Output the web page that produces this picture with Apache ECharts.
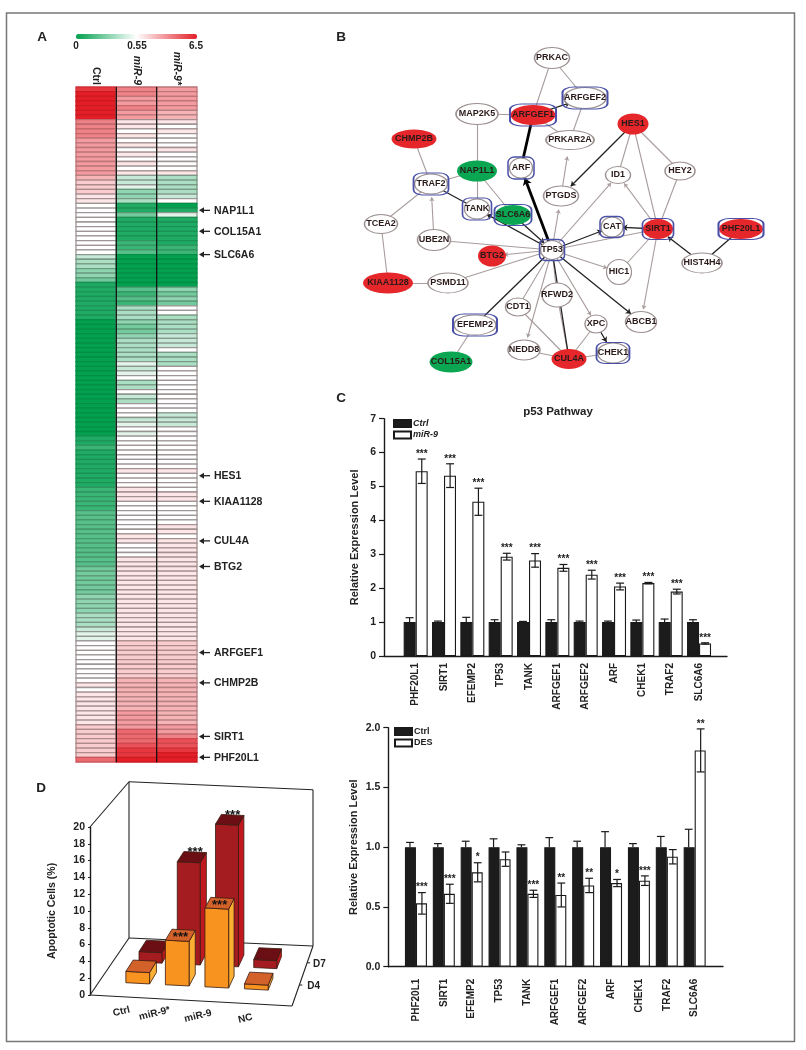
<!DOCTYPE html>
<html><head><meta charset="utf-8">
<style>html,body{margin:0;padding:0;background:#fff}#c{width:806px;height:1050px}</style>
<script src="https://cdn.jsdelivr.net/npm/echarts@6/dist/echarts.min.js"></script>
</head><body><div id="c"></div>
<script>
// ---------- Panel A: heat map (levels -9 green .. 0 white .. +9 red)
const heatColumns = ['Ctrl','miR-9','miR-9*'];
const heatCtrl = [8,9,9,9,9,9,9, 5,5,5,5,4,4,4,4,4,4,4,4, 3,2,2,2,1,1, 0,0,0,0,0,0,0,0,0,0,0, -2,-3,-3,-4,-4,-5,
 -8,-8,-8,-8,-8,-8,-8,-8, -9,-9,-9,-9,-9,-9,-9,-9,-9,-9,-9,-9,-9,-9,-9,-9,-9,-9,-9,-9,-9,-9,-9,-9,-9,
 -8,-8,-7,-8,-8,-8,-8,-8,-8,-8,-8, -7,-7,-7,-7,-7,-6,-6,-6,-6,-6,-6,-6,-6,-6,-6, -6,-6,-5,-5,-5,-5,-5,-5,
 -4,-4,-4,-4,-3,-3,-3, -2,-1,-1,0, 0,0,0,0,0,0,0,0, 1,0,1,1,1,1,1,1,1, 2,2,2,2,2,2,2, 6];
const heatMir9 = [5,5,4,4,5,4,4, 1,1,0,1,0,1,0,1,0,1,0,1, -2,-2,-1,-4,-4,-3, -8,-8,-5, -8,-8,-8,-8,-8,-7,-7,-6,
 -9,-9,-9,-9,-9,-9,-9, -6,-7,-6,-7, -3,-3,-3,-4, -5,-5,-4, -3,-3,-3,-3,-3, -1,-2,-1,0, -3,-3,0,-2,-3,
 0,0,0,-2,-1,0,-1, 0,0,0,0,0,0,0, 1, 0,0,0, 1,1,1, 0,0,0,0,0,0,0, 1,1,
 0,0,0,1,1,1,1,1,1,1,1,1,1,1,1,1,1,1,1,1,1, 2,2,2,2,2,2,2,2, 3,3,3,3,3,3,3,4,4,4,4, 6,6,6, 7,8,8,9];
const heatMir9s = [4,4,4,4,4,3,3, 1,0,1,0,0,0,1,0,0,0,0,1, -3,-3,-3,-3,-2,0, -9,-8,-1, -8,-8,-8,-8,-8,-8,-7,-7,
 -9,-9,-9,-9,-9,-9,-9, -4,-5,-4,-5, 0,0,-3, -3,-3,-3,-2,-2,-2, 0, -3,-3,-3, 0,0,0,0,0,0,0,0,0,0, -2,-2,-2,
 0,0,0,0,0,0,0,0,0, 1, 0,0,0,0, 1,1, 0,0,0,0,0, 1,1,0,1,1,1,1,
 1,1,1,1,1,1,1,1,1,1,1,1,1,1,1,1,1,1, 2,2,2,2,2,2,2,2, 3,3,3,3,3,3,3,3,3,3,4, 4,5, 7,7,8,9,9];
const geneNames = ['NAP1L1','COL15A1','SLC6A6','HES1','KIAA1128','CUL4A','BTG2','ARFGEF1','CHMP2B','SIRT1','PHF20L1'];
const geneRows  = [26,30.5,35.5,83,88.5,97,102.5,121,127.5,139,143.5];
const scaleLabels = ['0','0.55','6.5'];

// ---------- Panel B: network
const nodeNames = ['PRKAC','ARFGEF2','MAP2K5','ARFGEF1','PRKAR2A','HES1','CHMP2B','NAP1L1','ARF','ID1','HEY2','PTGDS','TRAF2','TANK','SLC6A6','TCEA2','UBE2N','TP53','CAT','SIRT1','PHF20L1','BTG2','HIC1','HIST4H4','KIAA1128','PSMD11','CDT1','RFWD2','XPC','ABCB1','EFEMP2','NEDD8','CUL4A','CHEK1','COL15A1'];
const nodeX = [552,585,477,533,570,633,414,477,521,618,680,561,431,477,513,381,434,552,612,658,741,492,619,702,388,448,518,557,596,641,475,524,569,613,451];
const nodeY = [58,98,114,115,140,124,139,171,168,175,171,196,184,209,215,224,240,250,227,229,229,256,272,263,283,283,307,295,324,322,325,350,359,353,362];
const nodeW = [35,42,42,45,48,31,45,40,23,25,30,35,33,25,36,33,33,23,22,30,44,28,25,40,50,40,25,30,22,31,42,32,35,31,43];
const nodeH = [21,21,21,20,19,21,19,21,20,17,18,20,20,20,20,19,21,19,20,20,20,21,25,20,21,20,18,24,18,21,20,20,20,20,21];
const redNodes = ['ARFGEF1','HES1','CHMP2B','SIRT1','PHF20L1','BTG2','KIAA1128','CUL4A'];
const greenNodes = ['NAP1L1','SLC6A6','COL15A1'];
const boxedNodes = ['ARFGEF2','ARFGEF1','ARF','TRAF2','TANK','SLC6A6','TP53','CAT','SIRT1','PHF20L1','EFEMP2','CHEK1'];
const boxW = [45,46,26,35,29,37,25,24,31,45,44,33];
const boxH = [22,22,22,22,22,21,21,21,21,21,22,21];
const greyEdges = [['PRKAC','ARFGEF1'],['PRKAC','ARFGEF2'],['MAP2K5','ARFGEF1'],['ARFGEF2','PRKAR2A'],['ARFGEF1','PRKAR2A'],['MAP2K5','NAP1L1'],['HES1','ID1'],['HES1','SIRT1'],['HES1','HEY2'],['HEY2','SIRT1'],['CHMP2B','TRAF2'],['TRAF2','NAP1L1'],['NAP1L1','TANK'],['NAP1L1','SLC6A6'],['TCEA2','TRAF2'],['TCEA2','KIAA1128'],['KIAA1128','PSMD11'],['UBE2N','TP53'],['PSMD11','TP53'],['SIRT1','TP53'],['SIRT1','HIC1'],['EFEMP2','COL15A1'],['TP53','CDT1'],['CDT1','CUL4A'],['TP53','RFWD2'],['RFWD2','CUL4A'],['NEDD8','CUL4A'],['XPC','CUL4A'],['CUL4A','CHEK1']];
const greyArrows = [['PTGDS','PRKAR2A'],['SIRT1','ID1'],['UBE2N','TRAF2'],['TP53','BTG2'],['TP53','PTGDS'],['TP53','ID1'],['TP53','HIC1'],['SIRT1','ABCB1'],['TP53','NEDD8'],['TP53','XPC']];
const blackEdges = [['TRAF2','TANK'],['HIST4H4','PHF20L1'],['TP53','EFEMP2'],['TP53','CUL4A']];
const blackArrows = [['HES1','PTGDS'],['TP53','TANK'],['SLC6A6','TP53'],['TP53','CAT'],['SIRT1','CAT'],['TP53','ABCB1'],['HIST4H4','SIRT1'],['XPC','CHEK1'],['ARFGEF1','ARFGEF2']];
const thickEdges = [['ARF','ARFGEF1']];
const thickArrows = [['TP53','ARF']];

// ---------- Panel C / lower bar chart
const pathwayGenes = ['PHF20L1','SIRT1','EFEMP2','TP53','TANK','ARFGEF1','ARFGEF2','ARF','CHEK1','TRAF2','SLC6A6'];
const cCtrl    = [1,1,1,1,1,1,1,1,1,1,1];
const cCtrlErr = [.13,.03,.14,.07,.02,.07,.03,.03,.06,.09,.07];
const cMir     = [5.45,5.32,4.55,2.93,2.82,2.6,2.4,2.05,2.15,1.9,.37];
const cMirErr  = [.36,.35,.4,.1,.2,.1,.13,.1,.02,.07,.02];
const cStars   = ['***','***','***','***','***','***','***','***','***','***','***'];
const eCtrl    = [1,1,1,1,1,1,1,1,1,1,1];
const eCtrlErr = [.04,.03,.05,.07,.02,.08,.05,.13,.03,.09,.15];
const eDes     = [.53,.61,.79,.9,.61,.6,.68,.7,.72,.92,1.81];
const eDesErr  = [.09,.08,.08,.06,.03,.1,.06,.03,.04,.06,.18];
const eStars   = ['***','***','*','','***','**','**','*','***','','**'];

// ---------- Panel D
const apoCats = ['Ctrl','miR-9*','miR-9','NC'];
const apoD4 = [1.37,5.4,9.55,.6];
const apoD7 = [1.3,12.7,17.6,1];
const apoD4Stars = ['','***','***',''];
const apoD7Stars = ['','***','***',''];
const apoDepths = ['D4','D7'];

// ---------- styles
const FF = '"Liberation Sans", Arial, sans-serif';
const INK = '#222';
const GREY = '#9c9090';

// ---------- heat data
const rowCount = heatCtrl.length;
const rowLabels = heatCtrl.map((_, i) => String(i));
const heatData = [];
[heatCtrl, heatMir9, heatMir9s].forEach((col, c) => col.forEach((v, r) => heatData.push([c, r, v])));
// row separators: a darker shade of the cell colour, grey on white cells
function rowLine(fill) {
  const c = echarts.color.parse(fill) || [255, 255, 255, 1];
  const sat = (Math.max(c[0], c[1], c[2]) - Math.min(c[0], c[1], c[2])) / 255;
  const f = Math.min(0.9, 0.62 + 0.45 * sat);
  return 'rgb(' + Math.round(c[0] * f) + ',' + Math.round(c[1] * (f - (1 - sat) * 0.03)) + ',' + Math.round(c[2] * (f - (1 - sat) * 0.03)) + ')';
}

// ---------- network data
const idx = n => nodeNames.indexOf(n);
const ellipse = 'path://M1 0A1 1 0 1 1 -1 0A1 1 0 1 1 1 0Z';
const graphNodes = nodeNames.map((n, i) => {
  const red = redNodes.includes(n), green = greenNodes.includes(n);
  return {
    name: n, value: [nodeX[i], nodeY[i]], symbol: ellipse, symbolKeepAspect: false,
    symbolSize: [nodeW[i], nodeH[i]],
    itemStyle: { color: red ? '#E5262A' : green ? '#0AA651' : '#fff', borderColor: (red || green) ? 'transparent' : GREY, borderWidth: 1.2 }
  };
});
const mkLink = (pair, color, width, arrow, size) => ({
  source: pair[0], target: pair[1],
  symbol: arrow ? ['none', 'arrow'] : ['none', 'none'], symbolSize: size || 6,
  lineStyle: { color, width, opacity: 1, curveness: 0 }
});
const graphLinks = [].concat(
  greyEdges.map(p => mkLink(p, '#a89c9c', 1.1, false)),
  greyArrows.map(p => mkLink(p, '#a89c9c', 1.1, true, 4)),
  blackEdges.map(p => mkLink(p, '#222', 1.3, false)),
  blackArrows.map(p => mkLink(p, '#222', 1.3, true, 5)),
  thickEdges.map(p => mkLink(p, '#000', 2.8, false)),
  thickArrows.map(p => mkLink(p, '#000', 2.8, true, 7))
);
const boxData = boxedNodes.map((n, i) => ({
  value: [nodeX[idx(n)], nodeY[idx(n)]], symbol: 'roundRect', symbolSize: [boxW[i], boxH[i]]
}));

// ---------- bar helpers
function errorSeries(name, xA, yA, vals, errs, side, stars, both) {
  return {
    type: 'custom', name: name + ' error', xAxisIndex: xA, yAxisIndex: yA, z: 5, silent: true, clip: false,
    data: vals.map((v, i) => [i, v, errs[i]]),
    encode: { x: 0, y: 1 },
    renderItem(params, api) {
      const i = api.value(0), v = api.value(1), e = api.value(2);
      const bw = api.size([1, 0])[0];
      const cx = api.coord([i, 0])[0] + side * bw * 0.215;
      const top = api.coord([i, v + e])[1], low = api.coord([i, both ? v - e : v])[1];
      const cap = bw * 0.14;
      const st = { stroke: '#1a1a1a', lineWidth: 1.2 };
      const ch = [
        { type: 'line', shape: { x1: cx, y1: top, x2: cx, y2: low }, style: st },
        { type: 'line', shape: { x1: cx - cap, y1: top, x2: cx + cap, y2: top }, style: st }
      ];
      if (both) ch.push({ type: 'line', shape: { x1: cx - cap, y1: low, x2: cx + cap, y2: low }, style: st });
      if (stars && stars[params.dataIndex]) ch.push({
        type: 'text', x: cx, y: top, style: { text: stars[params.dataIndex], align: 'center', verticalAlign: 'bottom', fill: '#222', font: 'bold 10px ' + FF }
      });
      return { type: 'group', children: ch };
    }
  };
}
const barSeries = (name, xA, yA, vals, color, bw) => ({
  type: 'bar', name, xAxisIndex: xA, yAxisIndex: yA, data: vals, barWidth: bw, barGap: '0%', z: 3, silent: true,
  itemStyle: { color, borderColor: '#1a1a1a', borderWidth: 1.1 }
});

// ---------- Panel D projection
function proj(api, u, v, h) {
  const p0 = api.coord([u, 0]), p = api.coord([u, h]);
  const dx = v * (39 - 18 * u), dy = -v * (57 + 3 * u);
  const height = (p0[1] - p[1]) * (1 - 0.07 * v);
  return [p0[0] + dx, p0[1] + 11 * u + dy - height];
}
const BAR_U0 = 0.134, BAR_STEP = 0.2, BAR_W = 0.12, BAR_DEPTH = 0.2;
function bar3d(name, vals, stars, v0, front, top, side, starOnTop) {
  return {
    type: 'custom', name, xAxisIndex: 5, yAxisIndex: 5, silent: true, clip: false, z: v0 < .5 ? 6 : 5,
    data: vals.map((v, i) => [i, v]),
    renderItem(params, api) {
      const i = api.value(0), h = api.value(1);
      const uL = BAR_U0 + i * BAR_STEP, uR = uL + BAR_W, v1 = v0 + BAR_DEPTH;
      const P = (u, v, z) => proj(api, u, v, z);
      const st = c => ({ fill: c, stroke: '#3a1a10', lineWidth: 0.8 });
      const ch = [
        { type: 'polygon', shape: { points: [P(uR, v0, 0), P(uR, v1, 0), P(uR, v1, h), P(uR, v0, h)] }, style: st(side) },
        { type: 'polygon', shape: { points: [P(uL, v0, 0), P(uR, v0, 0), P(uR, v0, h), P(uL, v0, h)] }, style: st(front) },
        { type: 'polygon', shape: { points: [P(uL, v0, h), P(uR, v0, h), P(uR, v1, h), P(uL, v1, h)] }, style: st(top) }
      ];
      if (stars[params.dataIndex]) {
        const c = P((uL + uR) / 2, starOnTop ? v0 + BAR_DEPTH / 2 : v1, h);
        ch.push({ type: 'text', x: c[0], y: c[1] + (starOnTop ? 2.5 : 0), style: { text: stars[params.dataIndex], align: 'center', verticalAlign: 'middle', fill: '#111', font: 'bold 13px ' + FF } });
      }
      return { type: 'group', children: ch };
    }
  };
}
const boxEdges = [[0,0,20,0,1,20],[0,1,20,1,1,20],[1,1,20,1,1,0],[0,1,20,0,1,0],[0,1,0,1,1,0],[0,0,0,0,1,0],[0,0,0,1,0,0],[1,0,0,1,1,0]];
const catLabelU = [.2,.36,.57,.8];
const depthV = [.35,.72];
const depthGap = [8,6];

const series = [
  // 0 heat map cells
  { type: 'custom', name: 'heat', xAxisIndex: 0, yAxisIndex: 0, data: heatData, silent: true, progressive: 0,
    encode: { x: 0, y: 1 }, clip: false,
    renderItem(params, api) {
      const c = api.value(0), r = api.value(1);
      const s = api.size([1, 1]), p = api.coord([c, r]);
      const fill = api.visual('color');
      return { type: 'rect', shape: { x: p[0] - s[0] / 2, y: p[1] - s[1] / 2, width: s[0], height: s[1] },
        style: { fill, stroke: rowLine(fill), lineWidth: 1.3 } };
    } },
  // column separators
  { type: 'custom', name: 'columnRules', xAxisIndex: 0, yAxisIndex: 0, silent: true, z: 6, clip: false,
    data: [[1, 0], [2, 0]], encode: { x: 0, y: 1 },
    renderItem(params, api) {
      const c = api.value(0), w = api.size([1, 0])[0];
      const x = api.coord([c, 0])[0] - w / 2;
      const y0 = api.coord([c, 0])[1] - 2.3, y1 = api.coord([c, rowCount - 1])[1] + 2.3;
      return { type: 'line', shape: { x1: x, y1: y0, x2: x, y2: y1 }, style: { stroke: '#111', lineWidth: 1.2 } };
    } },
  // gene call-outs
  { type: 'custom', name: 'genes', xAxisIndex: 0, yAxisIndex: 0, silent: true, z: 6, clip: false,
    data: geneRows.map(r => [2, r]), encode: { x: 0, y: 1 },
    renderItem(params, api) {
      const w = api.size([1, 0])[0];
      const x = api.coord([2, 0])[0] + w / 2;
      const y = api.coord([2, 0])[1] + api.value(1) * (api.coord([2, 1])[1] - api.coord([2, 0])[1]);
      return { type: 'group', children: [
        { type: 'line', shape: { x1: x + 5, y1: y, x2: x + 13, y2: y }, style: { stroke: '#222', lineWidth: 1.3 } },
        { type: 'polygon', shape: { points: [[x + 2, y], [x + 7, y - 3], [x + 7, y + 3]] }, style: { fill: '#222' } },
        { type: 'text', x: x + 17, y: y + .5, style: { text: geneNames[params.dataIndex], align: 'left', verticalAlign: 'middle', fill: INK, font: 'bold 10.5px ' + FF } }
      ] };
    } },
  // network
  { type: 'graph', name: 'network', coordinateSystem: 'cartesian2d', xAxisIndex: 1, yAxisIndex: 1, layout: 'none', silent: true, z: 2,
    data: graphNodes, links: graphLinks, edgeSymbol: ['none', 'none'], roam: false,
    label: { show: true, position: 'inside', formatter: '{b}', color: '#2a1a1a', fontFamily: FF, fontWeight: 'bold', fontSize: 9, overflow: 'none' } },
  { type: 'scatter', name: 'boxes', xAxisIndex: 1, yAxisIndex: 1, data: boxData, silent: true, z: 4,
    itemStyle: { color: 'rgba(0,0,0,0)', borderColor: '#4a50a8', borderWidth: 1.4, opacity: 1 } },
  // panel C
  barSeries('Ctrl', 3, 3, cCtrl, '#1c1c1c', 12),
  barSeries('miR-9', 3, 3, cMir, '#fff', 12),
  errorSeries('Ctrl', 3, 3, cCtrl, cCtrlErr, -1, null, false),
  errorSeries('miR-9', 3, 3, cMir, cMirErr, 1, cStars, true),
  // lower bars
  barSeries('Ctrl', 6, 6, eCtrl, '#1c1c1c', 11),
  barSeries('DES', 6, 6, eDes, '#fff', 11),
  errorSeries('Ctrl', 6, 6, eCtrl, eCtrlErr, -1, null, false),
  errorSeries('DES', 6, 6, eDes, eDesErr, 1, eStars, true),
  // panel D frame and labels
  { type: 'custom', name: 'box', xAxisIndex: 5, yAxisIndex: 5, silent: true, clip: false, z: 2,
    data: boxEdges, encode: { x: 0, y: 2 },
    renderItem(params, api) {
      const a = proj(api, api.value(0), api.value(1), api.value(2));
      const b = proj(api, api.value(3), api.value(4), api.value(5));
      return { type: 'line', shape: { x1: a[0], y1: a[1], x2: b[0], y2: b[1] }, style: { stroke: '#222', lineWidth: 1.1 } };
    } },
  bar3d('D7', apoD7, apoD7Stars, .6, '#A51C20', '#6B0F14', '#C0181E', false),
  bar3d('D4', apoD4, apoD4Stars, .24, '#F7931E', '#D2622A', '#FBB034', true),
  { type: 'custom', name: 'apoCatLabels', xAxisIndex: 5, yAxisIndex: 5, silent: true, clip: false, z: 7,
    data: catLabelU.map(u => [u, 0]), encode: { x: 0, y: 1 },
    renderItem(params, api) {
      const p = proj(api, api.value(0), -0.25, 0);
      return { type: 'text', x: p[0], y: p[1], rotation: 0.24, style: { text: apoCats[params.dataIndex], align: 'center', verticalAlign: 'middle', fill: INK, font: 'bold 10px ' + FF } };
    } },
  { type: 'custom', name: 'apoDepthLabels', xAxisIndex: 5, yAxisIndex: 5, silent: true, clip: false, z: 7,
    data: depthV.map(v => [v, 0]), encode: { x: 0, y: 1 },
    renderItem(params, api) {
      const p = proj(api, 1, api.value(0), 0);
      return { type: 'group', children: [
        { type: 'line', shape: { x1: p[0], y1: p[1], x2: p[0] + 3, y2: p[1] }, style: { stroke: '#222', lineWidth: 1 } },
        { type: 'text', x: p[0] + depthGap[params.dataIndex], y: p[1] + 1, style: { text: apoDepths[params.dataIndex], align: 'left', verticalAlign: 'middle', fill: INK, font: 'bold 10px ' + FF } }
      ] };
    } }
];

const yNumLabel = { color: INK, fontFamily: FF, fontWeight: 'bold', fontSize: 10.5, margin: 8 };
const axisLine = { show: true, lineStyle: { color: '#1a1a1a', width: 1.4 } };
const tick = { show: true, length: 5, lineStyle: { color: '#1a1a1a', width: 1.2 } };
const catAxis = (gridIndex, margin) => ({
  type: 'category', gridIndex, data: pathwayGenes, axisLine: { show: false }, axisTick: { show: false },
  axisLabel: { rotate: 90, interval: 0, margin, color: INK, fontFamily: FF, fontWeight: 'bold', fontSize: 10 }
});
const frameY = (gridIndex, max, interval, fmt, nameGap) => ({
  type: 'value', gridIndex, min: 0, max, interval, axisLine, axisTick: tick, splitLine: { show: false },
  axisLabel: Object.assign({}, yNumLabel, fmt ? { formatter: fmt } : {}),
  name: 'Relative Expression Level', nameLocation: 'middle', nameGap, nameRotate: 90,
  nameTextStyle: { color: INK, fontFamily: FF, fontWeight: 'bold', fontSize: 11 }
});

const option = {
  animation: false, backgroundColor: '#fff',
  textStyle: { fontFamily: FF },
  title: { text: 'p53 Pathway', left: 553, top: 401, textAlign: 'center', textStyle: { fontFamily: FF, fontSize: 11.5, fontWeight: 'bold', color: INK } },
  visualMap: [{
    type: 'continuous', seriesIndex: 0, dimension: 2, min: -9, max: 9, orient: 'horizontal', left: 76, top: 34,
    itemWidth: 5, itemHeight: 121, text: null, calculable: false, realtime: false, showLabel: false, padding: 0,
    inRange: { color: ['#03A04F', '#FFFFFF', '#E31E27'] }, textStyle: { fontSize: 0 }, hoverLink: false
  }],
  legend: [
    { data: ['Ctrl', 'miR-9'], left: 393, top: 419, orient: 'vertical', itemWidth: 17, itemHeight: 7, itemGap: 2.5, padding: 0, icon: 'rect', selectedMode: false,
      textStyle: { fontStyle: 'italic', fontFamily: FF, fontSize: 9, fontWeight: 'bold', color: INK, padding: [0, 0, 0, -3] } },
    { data: ['Ctrl', 'DES'], left: 394, top: 727, orient: 'vertical', itemWidth: 17, itemHeight: 7, itemGap: 2.5, padding: 0, icon: 'rect', selectedMode: false,
      textStyle: { fontFamily: FF, fontSize: 9, fontWeight: 'bold', color: INK, padding: [0, 0, 0, -3] } }
  ],
  grid: [
    { left: 76, top: 87, width: 121, height: 675 },          // 0 heat
    { left: 0, top: 0, width: 806, height: 1050 },           // 1 network (page pixels)
    { left: 384, top: 418.7, width: 343, height: 237.3 },    // 2 C frame
    { left: 401.5, top: 418.7, width: 311.7, height: 237.3 },// 3 C bars
    { left: 388.3, top: 727.7, width: 334.7, height: 239 },  // 4 E frame
    { left: 90, top: 827, width: 202, height: 168 },         // 5 D
    { left: 402, top: 727.7, width: 306.6, height: 239 }     // 6 E bars
  ],
  xAxis: [
    { type: 'category', gridIndex: 0, position: 'top', data: heatColumns, axisLine: { show: false }, axisTick: { show: false },
      axisLabel: { rotate: 90, interval: 0, margin: 2, color: INK, fontFamily: FF, fontSize: 10.5, fontWeight: 'bold',
        formatter: v => v === 'Ctrl' ? v : '{i|' + v + '}', rich: { i: { fontStyle: 'italic', fontSize: 10.5, fontWeight: 'bold', fontFamily: FF, color: INK } } } },
    { type: 'value', gridIndex: 1, min: 0, max: 806, show: false },
    { type: 'value', gridIndex: 2, min: 0, max: 1, axisLine, axisTick: { show: false }, axisLabel: { show: false }, splitLine: { show: false } },
    catAxis(3, 7),
    { type: 'value', gridIndex: 4, min: 0, max: 1, axisLine, axisTick: { show: false }, axisLabel: { show: false }, splitLine: { show: false } },
    { type: 'value', gridIndex: 5, min: 0, max: 1, show: false },
    catAxis(6, 12)
  ],
  yAxis: [
    { type: 'category', gridIndex: 0, inverse: true, data: rowLabels, show: false },
    { type: 'value', gridIndex: 1, inverse: true, min: 0, max: 1050, show: false },
    frameY(2, 7, 1, null, 24),
    { type: 'value', gridIndex: 3, min: 0, max: 7, show: false },
    frameY(4, 2, 0.5, v => v.toFixed(1), 29),
    { type: 'value', gridIndex: 5, min: 0, max: 20, interval: 2,
      axisLine, axisTick: { show: true, length: 2, lineStyle: { color: '#222' } }, splitLine: { show: false },
      axisLabel: Object.assign({}, yNumLabel, { margin: 5 }),
      name: 'Apoptotic Cells (%)', nameLocation: 'middle', nameGap: 32, nameRotate: 90,
      nameTextStyle: { color: INK, fontFamily: FF, fontWeight: 'bold', fontSize: 10.5 } },
    { type: 'value', gridIndex: 6, min: 0, max: 2, show: false }
  ],
  series,
  graphic: [
    { type: 'rect', z: -1, shape: { x: 6.5, y: 13, width: 788, height: 1028.5 }, style: { fill: 'none', stroke: '#777', lineWidth: 1.5 } },
    ...[['A', 42, 37], ['B', 341, 37], ['C', 341, 398], ['D', 41, 788]].map(t => ({
      type: 'text', x: t[1], y: t[2], z: 10, style: { text: t[0], fill: '#222', font: 'bold 13.5px ' + FF, align: 'center', verticalAlign: 'middle' }
    })),
    ...scaleLabels.map((t, i) => ({
      type: 'text', x: [76, 137, 196][i], y: 46, z: 10, style: { text: t, fill: INK, font: 'bold 10px ' + FF, align: 'center', verticalAlign: 'middle' }
    }))
  ]
};
const chart = echarts.init(document.getElementById('c'), null, { renderer: 'canvas', width: 806, height: 1050 });
chart.setOption(option);
</script></body></html>
